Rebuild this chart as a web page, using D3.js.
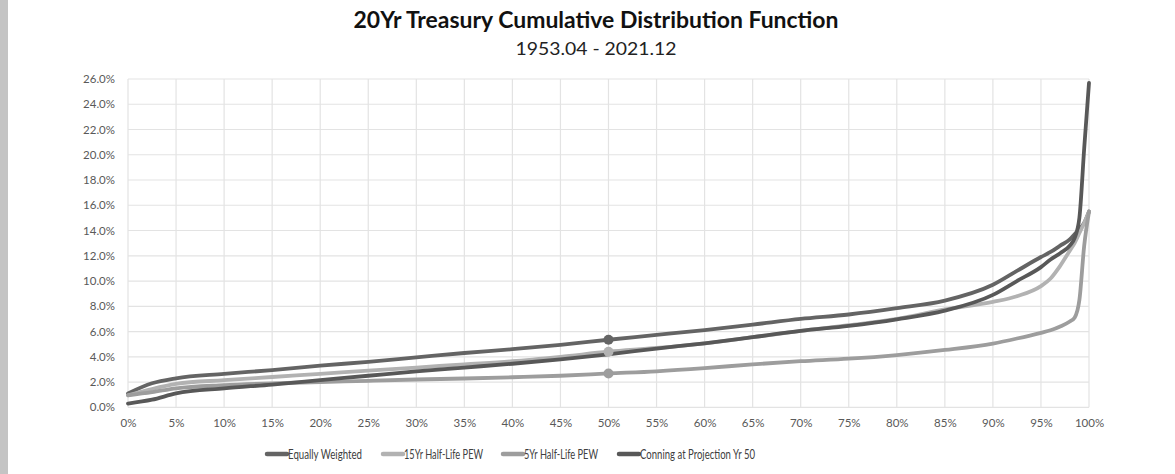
<!DOCTYPE html>
<html><head><meta charset="utf-8">
<script src="https://cdn.jsdelivr.net/npm/d3@7"></script>
<style>
body{margin:0;background:#fff;}
svg{display:block;}
text{font-family:Lato,"Open Sans",sans-serif;}
</style></head>
<body><svg id="c" width="1175" height="474"></svg>
<script>
const title = "20Yr Treasury Cumulative Distribution Function";
const subtitle = "1953.04 - 2021.12";
const percentiles = [0, 2.5, 5, 10, 15, 20, 25, 30, 35, 40, 45, 50, 55, 60, 65, 70, 75, 80, 85, 90, 92.5, 95, 96, 97, 98, 98.5, 99, 99.5, 100];
const equallyWeighted = [1.1, 1.9, 2.3, 2.65, 2.95, 3.3, 3.6, 3.95, 4.3, 4.6, 4.95, 5.35, 5.73, 6.12, 6.55, 7.0, 7.35, 7.85, 8.45, 9.7, 10.8, 11.9, 12.3, 12.8, 13.3, 13.7, 14.1, 14.6, 15.5];
const halfLife15 = [0.95, 1.45, 1.85, 2.15, 2.4, 2.65, 2.9, 3.15, 3.4, 3.65, 4.0, 4.4, 4.7, 5.07, 5.55, 6.05, 6.5, 7.0, 7.75, 8.35, 8.8, 9.6, 10.2, 11.2, 12.4, 13.0, 13.8, 14.6, 15.5];
const halfLife5 = [0.95, 1.2, 1.5, 1.75, 1.9, 2.0, 2.1, 2.2, 2.28, 2.38, 2.5, 2.68, 2.85, 3.1, 3.4, 3.65, 3.85, 4.14, 4.54, 5.05, 5.45, 5.9, 6.1, 6.4, 6.8, 7.1, 8.5, 12.8, 15.5];
const conning = [0.3, 0.6, 1.1, 1.5, 1.8, 2.15, 2.5, 2.85, 3.15, 3.45, 3.8, 4.2, 4.65, 5.07, 5.55, 6.05, 6.45, 6.97, 7.65, 8.9, 10.0, 11.1, 11.7, 12.2, 12.8, 13.4, 15.0, 20.5, 25.7];
const seriesNames = ["Equally Weighted", "15Yr Half-Life PEW", "5Yr Half-Life PEW", "Conning at Projection Yr 50"];
const seriesColors = ["#646464", "#b2b2b2", "#9d9d9d", "#585858"];
const xTicks = d3.range(0, 101, 5);
const yTicks = d3.range(0, 27, 2);
const medianMarker = 50;

const seriesValues = [equallyWeighted, halfLife15, halfLife5, conning];
const svg = d3.select("#c");
const m = {l: 128, r: 1089, t: 79, b: 407.3};
const x = d3.scaleLinear().domain([0, 100]).range([m.l, m.r]);
const y = d3.scaleLinear().domain([0, 26]).range([m.b, m.t]);

svg.append("rect").attr("x", 0).attr("y", 0).attr("width", 8).attr("height", 474).attr("fill", "#c4c4c4");

// gridlines
const g = svg.append("g");
g.selectAll(".hg").data(yTicks).join("line")
  .attr("x1", m.l).attr("x2", m.r).attr("y1", d => y(d)).attr("y2", d => y(d))
  .attr("stroke", "#e3e3e3").attr("stroke-width", 1.2);
g.selectAll(".vg").data(xTicks).join("line")
  .attr("y1", m.t).attr("y2", m.b).attr("x1", d => x(d)).attr("x2", d => x(d))
  .attr("stroke", "#e3e3e3").attr("stroke-width", 1.2);

// axes labels
const yAxis = d3.axisLeft(y).tickValues(yTicks).tickFormat(d => d.toFixed(1) + "%").tickSize(0).tickPadding(13);
const ya = svg.append("g").attr("transform", `translate(${m.l},0)`).call(yAxis);
ya.select(".domain").remove();
ya.selectAll("text").attr("fill", "#595959").style("font-size", "11.5px").style("font-family", "Lato, sans-serif");
const xAxis = d3.axisBottom(x).tickValues(xTicks).tickFormat(d => d + "%").tickSize(0).tickPadding(12);
const xa = svg.append("g").attr("transform", `translate(0,${m.b})`).call(xAxis);
xa.select(".domain").remove();
xa.selectAll("text").attr("fill", "#595959").style("font-size", "11.5px").style("font-family", "Lato, sans-serif");

// lines
const line = d3.line().x((d, i) => x(percentiles[i])).y(d => y(d)).curve(d3.curveMonotoneX);
seriesValues.forEach((vals, i) => {
  svg.append("path").datum(vals).attr("d", line)
    .attr("fill", "none").attr("stroke", seriesColors[i]).attr("stroke-width", 3.8)
    .attr("stroke-linejoin", "round").attr("stroke-linecap", "round");
});
// median markers
const mi = percentiles.indexOf(medianMarker);
[0, 1, 2].forEach(i => {
  svg.append("circle").attr("cx", x(medianMarker)).attr("cy", y(seriesValues[i][mi])).attr("r", 5)
    .attr("fill", seriesColors[i]);
});

// titles
svg.append("text").attr("x", 596).attr("y", 28).attr("text-anchor", "middle")
  .attr("textLength", 485).attr("lengthAdjust", "spacingAndGlyphs")
  .style("font-size", "22px").style("font-weight", "bold").attr("fill", "#111").text(title);
svg.append("text").attr("x", 596).attr("y", 55).attr("text-anchor", "middle")
  .attr("textLength", 161).attr("lengthAdjust", "spacingAndGlyphs")
  .style("font-size", "18px").attr("fill", "#222").text(subtitle);

// legend
const legX = [265, 381, 501, 617];
const legW = [74, 79, 74, 115];
const lg = svg.append("g");
seriesNames.forEach((n, i) => {
  lg.append("line").attr("x1", legX[i] + 2).attr("x2", legX[i] + 22).attr("y1", 454).attr("y2", 454)
    .attr("stroke", seriesColors[i]).attr("stroke-width", 4.5).attr("stroke-linecap", "round");
  lg.append("text").attr("x", legX[i] + 23).attr("y", 458.5).attr("fill", "#404040")
    .attr("textLength", legW[i]).attr("lengthAdjust", "spacingAndGlyphs")
    .style("font-size", "13px").text(n);
});
</script></body></html>
